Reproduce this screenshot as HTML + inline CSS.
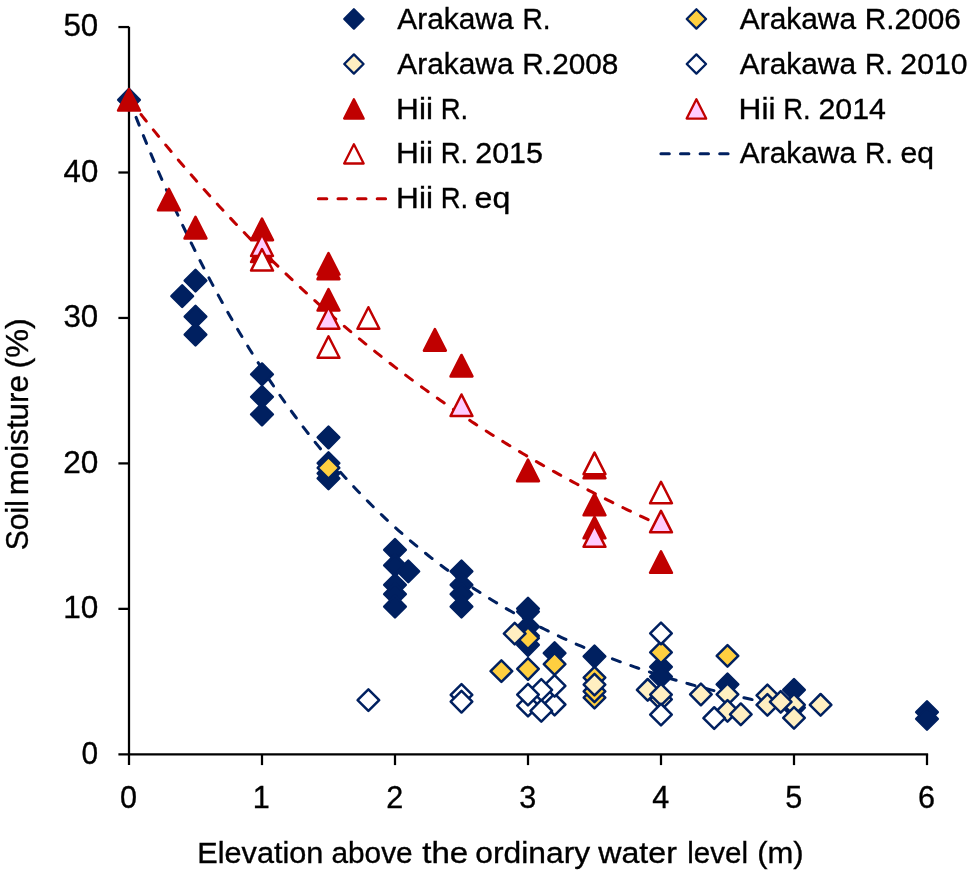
<!DOCTYPE html>
<html><head><meta charset="utf-8"><title>Soil moisture vs elevation</title>
<style>html,body{margin:0;padding:0;background:#fff;}svg{display:block;will-change:transform;}text{font-family:"Liberation Sans",sans-serif;fill:#000;stroke:#000;stroke-width:0.35px;}</style>
</head><body>
<svg width="969" height="874" viewBox="0 0 969 874">
<rect x="0" y="0" width="969" height="874" fill="#ffffff"/>
<defs>
<path id="d" d="M0,-10.8 L10.8,0 L0,10.8 L-10.8,0 Z"/>
<path id="t" d="M0,-10.75 L10.950000000000001,10.75 L-10.950000000000001,10.75 Z"/>
<path id="dl" d="M0,-9.65 L9.65,0 L0,9.65 L-9.65,0 Z"/>
<path id="tl" d="M0,-9.65 L9.75,9.65 L-9.75,9.65 Z"/>
</defs>
<g stroke="#000" stroke-width="2.25" fill="none" stroke-linecap="butt">
<line x1="129.0" y1="26.75" x2="129.0" y2="765.10"/>
<line x1="118.40" y1="754.3" x2="928.12" y2="754.3"/>
<line x1="118.40" y1="608.85" x2="129.0" y2="608.85"/>
<line x1="118.40" y1="463.40" x2="129.0" y2="463.40"/>
<line x1="118.40" y1="317.95" x2="129.0" y2="317.95"/>
<line x1="118.40" y1="172.50" x2="129.0" y2="172.50"/>
<line x1="118.40" y1="27.05" x2="129.0" y2="27.05"/>
<line x1="262.00" y1="754.3" x2="262.00" y2="765.10"/>
<line x1="395.00" y1="754.3" x2="395.00" y2="765.10"/>
<line x1="528.00" y1="754.3" x2="528.00" y2="765.10"/>
<line x1="661.00" y1="754.3" x2="661.00" y2="765.10"/>
<line x1="794.00" y1="754.3" x2="794.00" y2="765.10"/>
<line x1="927.00" y1="754.3" x2="927.00" y2="765.10"/>
</g>
<path d="M129.00,99.10 L132.32,107.72 L135.65,116.23 L138.97,124.63 L142.30,132.92 L145.62,141.10 L148.95,149.17 L152.28,157.14 L155.60,165.00 L158.93,172.75 L162.25,180.41 L165.57,187.96 L168.90,195.42 L172.22,202.77 L175.55,210.03 L178.88,217.20 L182.20,224.27 L185.53,231.24 L188.85,238.13 L192.18,244.92 L195.50,251.63 L198.82,258.24 L202.15,264.77 L205.47,271.22 L208.80,277.57 L212.12,283.85 L215.45,290.04 L218.78,296.15 L222.10,302.18 L225.43,308.13 L228.75,314.01 L232.07,319.80 L235.40,325.52 L238.72,331.17 L242.05,336.73 L245.38,342.23 L248.70,347.66 L252.03,353.01 L255.35,358.29 L258.67,363.50 L262.00,368.65 L265.32,373.72 L268.65,378.73 L271.98,383.68 L275.30,388.55 L278.62,393.37 L281.95,398.12 L285.27,402.81 L288.60,407.43 L291.93,412.00 L295.25,416.50 L298.57,420.95 L301.90,425.34 L305.23,429.67 L308.55,433.94 L311.88,438.16 L315.20,442.32 L318.52,446.43 L321.85,450.48 L325.18,454.48 L328.50,458.42 L331.82,462.32 L335.15,466.16 L338.48,469.95 L341.80,473.70 L345.12,477.39 L348.45,481.04 L351.77,484.63 L355.10,488.18 L358.43,491.68 L361.75,495.14 L365.07,498.55 L368.40,501.92 L371.73,505.24 L375.05,508.52 L378.38,511.75 L381.70,514.95 L385.03,518.10 L388.35,521.21 L391.68,524.27 L395.00,527.30 L398.32,530.29 L401.65,533.24 L404.98,536.15 L408.30,539.02 L411.62,541.85 L414.95,544.65 L418.27,547.41 L421.60,550.13 L424.93,552.82 L428.25,555.47 L431.57,558.09 L434.90,560.67 L438.23,563.22 L441.55,565.74 L444.88,568.22 L448.20,570.67 L451.52,573.08 L454.85,575.47 L458.18,577.82 L461.50,580.15 L464.82,582.44 L468.15,584.70 L471.48,586.93 L474.80,589.14 L478.12,591.31 L481.45,593.46 L484.77,595.57 L488.10,597.66 L491.43,599.72 L494.75,601.76 L498.07,603.77 L501.40,605.75 L504.73,607.70 L508.05,609.63 L511.38,611.54 L514.70,613.42 L518.02,615.27 L521.35,617.10 L524.67,618.91 L528.00,620.69 L531.33,622.45 L534.65,624.18 L537.98,625.89 L541.30,627.58 L544.62,629.25 L547.95,630.90 L551.27,632.52 L554.60,634.13 L557.92,635.71 L561.25,637.27 L564.58,638.81 L567.90,640.33 L571.23,641.83 L574.55,643.31 L577.88,644.77 L581.20,646.21 L584.52,647.64 L587.85,649.04 L591.17,650.42 L594.50,651.79 L597.83,653.14 L601.15,654.47 L604.48,655.79 L607.80,657.08 L611.12,658.36 L614.45,659.63 L617.77,660.87 L621.10,662.10 L624.42,663.32 L627.75,664.51 L631.08,665.69 L634.40,666.86 L637.73,668.01 L641.05,669.15 L644.38,670.27 L647.70,671.37 L651.02,672.47 L654.35,673.54 L657.68,674.61 L661.00,675.66 L664.33,676.69 L667.65,677.71 L670.98,678.72 L674.30,679.71 L677.62,680.70 L680.95,681.67 L684.27,682.62 L687.60,683.56 L690.92,684.50 L694.25,685.41 L697.58,686.32 L700.90,687.22 L704.23,688.10 L707.55,688.97 L710.88,689.83 L714.20,690.68 L717.52,691.52 L720.85,692.34 L724.17,693.16 L727.50,693.96 L730.83,694.76 L734.15,695.54 L737.48,696.31 L740.80,697.08 L744.12,697.83 L747.45,698.57 L750.77,699.31 L754.10,700.03 L757.42,700.75 L760.75,701.45 L764.08,702.15 L767.40,702.83 L770.73,703.51 L774.05,704.18 L777.38,704.84 L780.70,705.49 L784.02,706.13 L787.35,706.77 L790.67,707.39 L794.00,708.01" fill="none" stroke="#002060" stroke-width="3.0" stroke-dasharray="8.4 11.2" stroke-linecap="round" stroke-dashoffset="0"/>
<path d="M129.00,99.10 L131.66,102.54 L134.32,105.96 L136.98,109.36 L139.64,112.74 L142.30,116.11 L144.96,119.46 L147.62,122.79 L150.28,126.10 L152.94,129.39 L155.60,132.67 L158.26,135.93 L160.92,139.18 L163.58,142.41 L166.24,145.62 L168.90,148.81 L171.56,151.99 L174.22,155.14 L176.88,158.29 L179.54,161.41 L182.20,164.53 L184.86,167.62 L187.52,170.70 L190.18,173.76 L192.84,176.80 L195.50,179.83 L198.16,182.85 L200.82,185.85 L203.48,188.83 L206.14,191.79 L208.80,194.75 L211.46,197.68 L214.12,200.60 L216.78,203.51 L219.44,206.40 L222.10,209.27 L224.76,212.13 L227.42,214.97 L230.08,217.80 L232.74,220.62 L235.40,223.42 L238.06,226.20 L240.72,228.97 L243.38,231.73 L246.04,234.47 L248.70,237.20 L251.36,239.91 L254.02,242.61 L256.68,245.29 L259.34,247.96 L262.00,250.62 L264.66,253.26 L267.32,255.89 L269.98,258.51 L272.64,261.11 L275.30,263.69 L277.96,266.27 L280.62,268.83 L283.28,271.38 L285.94,273.91 L288.60,276.43 L291.26,278.94 L293.92,281.43 L296.58,283.91 L299.24,286.38 L301.90,288.83 L304.56,291.28 L307.22,293.70 L309.88,296.12 L312.54,298.52 L315.20,300.92 L317.86,303.29 L320.52,305.66 L323.18,308.01 L325.84,310.36 L328.50,312.68 L331.16,315.00 L333.82,317.31 L336.48,319.60 L339.14,321.88 L341.80,324.15 L344.46,326.40 L347.12,328.65 L349.78,330.88 L352.44,333.10 L355.10,335.31 L357.76,337.51 L360.42,339.70 L363.08,341.87 L365.74,344.04 L368.40,346.19 L371.06,348.33 L373.72,350.46 L376.38,352.58 L379.04,354.69 L381.70,356.78 L384.36,358.87 L387.02,360.94 L389.68,363.01 L392.34,365.06 L395.00,367.10 L397.66,369.13 L400.32,371.15 L402.98,373.16 L405.64,375.16 L408.30,377.15 L410.96,379.13 L413.62,381.10 L416.28,383.06 L418.94,385.00 L421.60,386.94 L424.26,388.87 L426.92,390.79 L429.58,392.69 L432.24,394.59 L434.90,396.48 L437.56,398.35 L440.22,400.22 L442.88,402.08 L445.54,403.93 L448.20,405.76 L450.86,407.59 L453.52,409.41 L456.18,411.22 L458.84,413.02 L461.50,414.81 L464.16,416.59 L466.82,418.36 L469.48,420.13 L472.14,421.88 L474.80,423.62 L477.46,425.36 L480.12,427.08 L482.78,428.80 L485.44,430.51 L488.10,432.21 L490.76,433.90 L493.42,435.58 L496.08,437.25 L498.74,438.91 L501.40,440.57 L504.06,442.21 L506.72,443.85 L509.38,445.48 L512.04,447.10 L514.70,448.71 L517.36,450.31 L520.02,451.91 L522.68,453.50 L525.34,455.07 L528.00,456.64 L530.66,458.20 L533.32,459.76 L535.98,461.30 L538.64,462.84 L541.30,464.37 L543.96,465.89 L546.62,467.40 L549.28,468.91 L551.94,470.41 L554.60,471.90 L557.26,473.38 L559.92,474.85 L562.58,476.32 L565.24,477.78 L567.90,479.23 L570.56,480.67 L573.22,482.10 L575.88,483.53 L578.54,484.95 L581.20,486.37 L583.86,487.77 L586.52,489.17 L589.18,490.56 L591.84,491.94 L594.50,493.32 L597.16,494.69 L599.82,496.05 L602.48,497.41 L605.14,498.75 L607.80,500.10 L610.46,501.43 L613.12,502.76 L615.78,504.07 L618.44,505.39 L621.10,506.69 L623.76,507.99 L626.42,509.28 L629.08,510.57 L631.74,511.85 L634.40,513.12 L637.06,514.39 L639.72,515.64 L642.38,516.90 L645.04,518.14 L647.70,519.38 L650.36,520.61 L653.02,521.84 L655.68,523.06 L658.34,524.27 L661.00,525.48" fill="none" stroke="#C00000" stroke-width="3.0" stroke-dasharray="8.4 11.2" stroke-linecap="round" stroke-dashoffset="0"/>
<g fill="#002060" stroke="#002060" stroke-width="2.5" stroke-linejoin="round">
<use href="#d" x="129.00" y="99.77"/>
<use href="#d" x="195.50" y="280.66"/>
<use href="#d" x="182.20" y="296.10"/>
<use href="#d" x="195.50" y="316.63"/>
<use href="#d" x="195.50" y="334.54"/>
<use href="#d" x="262.00" y="374.28"/>
<use href="#d" x="262.00" y="396.85"/>
<use href="#d" x="262.00" y="414.47"/>
<use href="#d" x="328.50" y="437.47"/>
<use href="#d" x="328.50" y="463.10"/>
<use href="#d" x="328.50" y="473.29"/>
<use href="#d" x="328.50" y="478.39"/>
<use href="#d" x="395.00" y="549.88"/>
<use href="#d" x="395.00" y="565.31"/>
<use href="#d" x="408.30" y="571.43"/>
<use href="#d" x="395.00" y="584.82"/>
<use href="#d" x="395.00" y="594.14"/>
<use href="#d" x="395.00" y="606.52"/>
<use href="#d" x="461.50" y="571.43"/>
<use href="#d" x="461.50" y="584.82"/>
<use href="#d" x="461.50" y="594.14"/>
<use href="#d" x="461.50" y="606.52"/>
<use href="#d" x="528.00" y="608.70"/>
<use href="#d" x="528.00" y="611.61"/>
<use href="#d" x="528.00" y="626.61"/>
<use href="#d" x="528.00" y="635.78"/>
<use href="#d" x="528.00" y="644.95"/>
<use href="#d" x="554.60" y="653.11"/>
<use href="#d" x="594.50" y="656.46"/>
<use href="#d" x="661.00" y="666.94"/>
<use href="#d" x="661.00" y="676.55"/>
<use href="#d" x="727.50" y="684.41"/>
<use href="#d" x="794.00" y="689.94"/>
<use href="#d" x="794.00" y="707.71"/>
<use href="#d" x="927.00" y="712.08"/>
<use href="#d" x="927.00" y="718.92"/>
</g>
<g fill="#FFCF40" stroke="#002060" stroke-width="2.5" stroke-linejoin="round">
<use href="#d" x="328.50" y="467.90"/>
<use href="#d" x="501.40" y="671.16"/>
<use href="#d" x="528.00" y="638.11"/>
<use href="#d" x="528.00" y="668.98"/>
<use href="#d" x="554.60" y="664.03"/>
<use href="#d" x="594.50" y="697.66"/>
<use href="#d" x="594.50" y="691.26"/>
<use href="#d" x="594.50" y="677.57"/>
<use href="#d" x="661.00" y="652.38"/>
<use href="#d" x="727.50" y="655.87"/>
</g>
<g fill="#FFEFC1" stroke="#002060" stroke-width="2.5" stroke-linejoin="round">
<use href="#d" x="514.70" y="633.60"/>
<use href="#d" x="594.50" y="684.56"/>
<use href="#d" x="647.70" y="689.80"/>
<use href="#d" x="661.00" y="699.41"/>
<use href="#d" x="661.00" y="694.60"/>
<use href="#d" x="700.90" y="694.46"/>
<use href="#d" x="727.50" y="694.31"/>
<use href="#d" x="727.50" y="710.91"/>
<use href="#d" x="740.80" y="714.26"/>
<use href="#d" x="767.40" y="695.33"/>
<use href="#d" x="767.40" y="704.94"/>
<use href="#d" x="794.00" y="704.80"/>
<use href="#d" x="780.70" y="701.88"/>
<use href="#d" x="794.00" y="717.90"/>
<use href="#d" x="820.60" y="704.80"/>
</g>
<g fill="#FFFFFF" stroke="#002060" stroke-width="2.5" stroke-linejoin="round">
<use href="#d" x="554.60" y="704.50"/>
<use href="#d" x="528.00" y="705.67"/>
<use href="#d" x="554.60" y="685.87"/>
<use href="#d" x="541.30" y="689.94"/>
<use href="#d" x="528.00" y="694.60"/>
<use href="#d" x="541.30" y="710.77"/>
<use href="#d" x="368.40" y="700.14"/>
<use href="#d" x="461.50" y="694.90"/>
<use href="#d" x="461.50" y="701.74"/>
<use href="#d" x="661.00" y="633.45"/>
<use href="#d" x="661.00" y="714.55"/>
<use href="#d" x="714.20" y="718.05"/>
</g>
<g fill="#C00000" stroke="#C00000" stroke-width="2.5" stroke-linejoin="round">
<use href="#t" x="129.00" y="99.77"/>
<use href="#t" x="168.90" y="199.56"/>
<use href="#t" x="195.50" y="227.66"/>
<use href="#t" x="262.00" y="229.41"/>
<use href="#t" x="262.00" y="251.25"/>
<use href="#t" x="328.50" y="263.77"/>
<use href="#t" x="328.50" y="268.43"/>
<use href="#t" x="328.50" y="299.74"/>
<use href="#t" x="434.90" y="339.92"/>
<use href="#t" x="461.50" y="365.69"/>
<use href="#t" x="528.00" y="470.38"/>
<use href="#t" x="594.50" y="467.47"/>
<use href="#t" x="594.50" y="504.45"/>
<use href="#t" x="594.50" y="527.46"/>
<use href="#t" x="661.00" y="562.11"/>
</g>
<g fill="#FFCCFF" stroke="#C00000" stroke-width="2.5" stroke-linejoin="round">
<use href="#t" x="262.00" y="245.22"/>
<use href="#t" x="328.50" y="317.95"/>
<use href="#t" x="461.50" y="405.22"/>
<use href="#t" x="594.50" y="536.12"/>
<use href="#t" x="661.00" y="521.58"/>
</g>
<g fill="#FFFFFF" stroke="#C00000" stroke-width="2.5" stroke-linejoin="round">
<use href="#t" x="262.00" y="259.77"/>
<use href="#t" x="328.50" y="347.04"/>
<use href="#t" x="368.40" y="317.95"/>
<use href="#t" x="594.50" y="463.40"/>
<use href="#t" x="661.00" y="492.49"/>
</g>
<text x="81.53" y="763.70" font-size="31.7" textLength="16.59" lengthAdjust="spacingAndGlyphs">0</text>
<text x="63.18" y="618.25" font-size="31.7" textLength="35.11" lengthAdjust="spacingAndGlyphs">10</text>
<text x="63.19" y="472.80" font-size="31.7" textLength="35.10" lengthAdjust="spacingAndGlyphs">20</text>
<text x="63.47" y="327.35" font-size="31.7" textLength="34.81" lengthAdjust="spacingAndGlyphs">30</text>
<text x="63.60" y="181.90" font-size="31.7" textLength="34.67" lengthAdjust="spacingAndGlyphs">40</text>
<text x="63.47" y="36.45" font-size="31.7" textLength="34.81" lengthAdjust="spacingAndGlyphs">50</text>
<text x="120.12" y="808.00" font-size="31.7" textLength="17.01" lengthAdjust="spacingAndGlyphs">0</text>
<text x="252.73" y="808.00" font-size="31.7" textLength="17.01" lengthAdjust="spacingAndGlyphs">1</text>
<text x="386.25" y="808.00" font-size="31.7" textLength="17.01" lengthAdjust="spacingAndGlyphs">2</text>
<text x="519.25" y="808.00" font-size="31.7" textLength="17.01" lengthAdjust="spacingAndGlyphs">3</text>
<text x="652.25" y="808.00" font-size="31.7" textLength="17.01" lengthAdjust="spacingAndGlyphs">4</text>
<text x="785.25" y="808.00" font-size="31.7" textLength="17.01" lengthAdjust="spacingAndGlyphs">5</text>
<text x="918.12" y="808.00" font-size="31.7" textLength="17.01" lengthAdjust="spacingAndGlyphs">6</text>
<text x="197.29" y="862.80" font-size="30.2" textLength="126.11" lengthAdjust="spacingAndGlyphs">Elevation</text>
<text x="331.43" y="862.80" font-size="30.2" textLength="81.21" lengthAdjust="spacingAndGlyphs">above</text>
<text x="422.24" y="862.80" font-size="30.2" textLength="45.99" lengthAdjust="spacingAndGlyphs">the</text>
<text x="475.35" y="862.80" font-size="30.2" textLength="114.85" lengthAdjust="spacingAndGlyphs">ordinary</text>
<text x="598.20" y="862.80" font-size="30.2" textLength="78.68" lengthAdjust="spacingAndGlyphs">water</text>
<text x="687.19" y="862.80" font-size="30.2" textLength="60.77" lengthAdjust="spacingAndGlyphs">level</text>
<text x="757.15" y="862.80" font-size="30.2" textLength="46.46" lengthAdjust="spacingAndGlyphs">(m)</text>
<text transform="translate(27.70,550.34) rotate(-90)" font-size="30.8" textLength="50.20" lengthAdjust="spacingAndGlyphs">Soil</text>
<text transform="translate(27.70,495.23) rotate(-90)" font-size="30.8" textLength="120.11" lengthAdjust="spacingAndGlyphs">moisture</text>
<text transform="translate(27.70,368.53) rotate(-90)" font-size="30.8" textLength="50.43" lengthAdjust="spacingAndGlyphs">(%)</text>
<use href="#dl" x="353.9" y="18.95" fill="#002060" stroke="#002060" stroke-width="2.3" stroke-linejoin="round"/>
<use href="#dl" x="353.9" y="64.0" fill="#FFEFC1" stroke="#002060" stroke-width="2.3" stroke-linejoin="round"/>
<use href="#tl" x="353.9" y="108.95" fill="#C00000" stroke="#C00000" stroke-width="2.3" stroke-linejoin="round"/>
<use href="#tl" x="353.9" y="153.85" fill="#FFFFFF" stroke="#C00000" stroke-width="2.3" stroke-linejoin="round"/>
<line x1="318.40" y1="198.65" x2="388.90" y2="198.65" stroke="#C00000" stroke-width="3.0" stroke-dasharray="8.4 11.2" stroke-linecap="round"/>
<use href="#dl" x="696.4" y="18.95" fill="#FFCF40" stroke="#002060" stroke-width="2.3" stroke-linejoin="round"/>
<use href="#dl" x="696.4" y="64.0" fill="#FFFFFF" stroke="#002060" stroke-width="2.3" stroke-linejoin="round"/>
<use href="#tl" x="696.4" y="108.95" fill="#FFCCFF" stroke="#C00000" stroke-width="2.3" stroke-linejoin="round"/>
<line x1="660.90" y1="153.85" x2="731.40" y2="153.85" stroke="#002060" stroke-width="3.0" stroke-dasharray="8.4 11.2" stroke-linecap="round"/>
<text x="397.30" y="29.00" font-size="30.2" textLength="116.21" lengthAdjust="spacingAndGlyphs">Arakawa</text>
<text x="522.51" y="29.00" font-size="30.2" textLength="28.13" lengthAdjust="spacingAndGlyphs">R.</text>
<text x="397.30" y="73.90" font-size="30.2" textLength="116.21" lengthAdjust="spacingAndGlyphs">Arakawa</text>
<text x="522.37" y="73.90" font-size="30.2" textLength="96.03" lengthAdjust="spacingAndGlyphs">R.2008</text>
<text x="396.11" y="118.50" font-size="30.2" textLength="36.89" lengthAdjust="spacingAndGlyphs">Hii</text>
<text x="440.67" y="118.50" font-size="30.2" textLength="27.41" lengthAdjust="spacingAndGlyphs">R.</text>
<text x="396.11" y="163.10" font-size="30.2" textLength="36.89" lengthAdjust="spacingAndGlyphs">Hii</text>
<text x="440.67" y="163.10" font-size="30.2" textLength="27.41" lengthAdjust="spacingAndGlyphs">R.</text>
<text x="475.25" y="163.10" font-size="30.2" textLength="67.63" lengthAdjust="spacingAndGlyphs">2015</text>
<text x="396.11" y="207.70" font-size="30.2" textLength="36.89" lengthAdjust="spacingAndGlyphs">Hii</text>
<text x="440.67" y="207.70" font-size="30.2" textLength="27.41" lengthAdjust="spacingAndGlyphs">R.</text>
<text x="474.64" y="207.70" font-size="30.2" textLength="35.70" lengthAdjust="spacingAndGlyphs">eq</text>
<text x="739.80" y="29.00" font-size="30.2" textLength="116.21" lengthAdjust="spacingAndGlyphs">Arakawa</text>
<text x="864.87" y="29.00" font-size="30.2" textLength="95.93" lengthAdjust="spacingAndGlyphs">R.2006</text>
<text x="739.80" y="73.90" font-size="30.2" textLength="116.21" lengthAdjust="spacingAndGlyphs">Arakawa</text>
<text x="865.01" y="73.90" font-size="30.2" textLength="28.13" lengthAdjust="spacingAndGlyphs">R.</text>
<text x="900.36" y="73.90" font-size="30.2" textLength="67.11" lengthAdjust="spacingAndGlyphs">2010</text>
<text x="738.61" y="118.50" font-size="30.2" textLength="36.89" lengthAdjust="spacingAndGlyphs">Hii</text>
<text x="783.17" y="118.50" font-size="30.2" textLength="27.41" lengthAdjust="spacingAndGlyphs">R.</text>
<text x="818.45" y="118.50" font-size="30.2" textLength="67.47" lengthAdjust="spacingAndGlyphs">2014</text>
<text x="739.80" y="163.10" font-size="30.2" textLength="116.21" lengthAdjust="spacingAndGlyphs">Arakawa</text>
<text x="865.01" y="163.10" font-size="30.2" textLength="28.13" lengthAdjust="spacingAndGlyphs">R.</text>
<text x="900.62" y="163.10" font-size="30.2" textLength="33.48" lengthAdjust="spacingAndGlyphs">eq</text>
</svg>
</body></html>
